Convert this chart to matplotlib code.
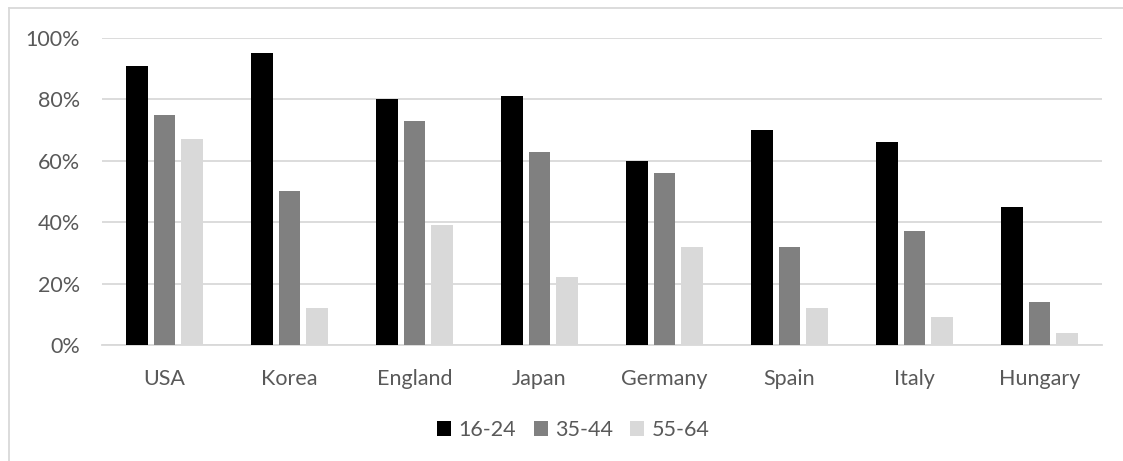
import matplotlib.pyplot as plt
import numpy as np
from matplotlib.lines import Line2D
from matplotlib.ticker import FuncFormatter

plt.rcParams["font.family"] = ["Lato", "DejaVu Sans"]

countries = ["USA", "Korea", "England", "Japan", "Germany", "Spain", "Italy", "Hungary"]
age_groups = ["16-24", "35-44", "55-64"]
share_16_24 = [0.91, 0.95, 0.80, 0.81, 0.60, 0.70, 0.66, 0.45]
share_35_44 = [0.75, 0.50, 0.73, 0.63, 0.56, 0.32, 0.37, 0.14]
share_55_64 = [0.67, 0.12, 0.39, 0.22, 0.32, 0.12, 0.09, 0.04]

colors = ["#000000", "#808080", "#d9d9d9"]
text_color = "#595959"
grid_color = "#d9d9d9"

fig = plt.figure(figsize=(11.23, 4.61), dpi=100)
ax = fig.add_axes([102 / 1123, 1 - 345 / 461, 1000 / 1123, 307 / 461])

x = np.arange(len(countries))
slot = 0.2213
width = 0.172
for i, (vals, lab, col) in enumerate(zip([share_16_24, share_35_44, share_55_64], age_groups, colors)):
    ax.bar(x + (i - 1) * slot, vals, width=width, color=col, label=lab, zorder=3)

ax.set_xlim(-0.5, len(countries) - 0.5)
ax.set_ylim(0, 1.0)
ax.set_yticks(np.arange(0, 1.01, 0.2))
ax.yaxis.set_major_formatter(FuncFormatter(lambda v, _: f"{v * 100:.0f}%"))
ax.set_xticks(x)
ax.set_xticklabels(countries)
ax.grid(axis="y", color=grid_color, linewidth=1.3, zorder=0)
ax.tick_params(axis="both", length=0, labelsize=15.5, colors=text_color)
ax.tick_params(axis="x", pad=17.5)
ax.tick_params(axis="y", pad=16)
for side in ["top", "right", "left"]:
    ax.spines[side].set_visible(False)
ax.spines["bottom"].set_color(grid_color)
ax.spines["bottom"].set_linewidth(1.3)

# legend sits slightly left of the plot centre
leg = ax.legend(loc="center", bbox_to_anchor=(0.4715, (345 - 430) / 307), ncol=3,
                frameon=False, fontsize=15.5, handlelength=0.65, handleheight=0.65,
                handletextpad=0.35, columnspacing=0.8, labelcolor=text_color)

# outer chart frame: left and top edges only
fig.add_artist(Line2D([8.5 / 1123, 8.5 / 1123], [0, 1 - 8.5 / 461], color="#d9d9d9", linewidth=1.3))
fig.add_artist(Line2D([8.5 / 1123, 1], [1 - 8.5 / 461, 1 - 8.5 / 461], color="#d9d9d9", linewidth=1.3))

fig.savefig("out.png", dpi=100, facecolor="white")
